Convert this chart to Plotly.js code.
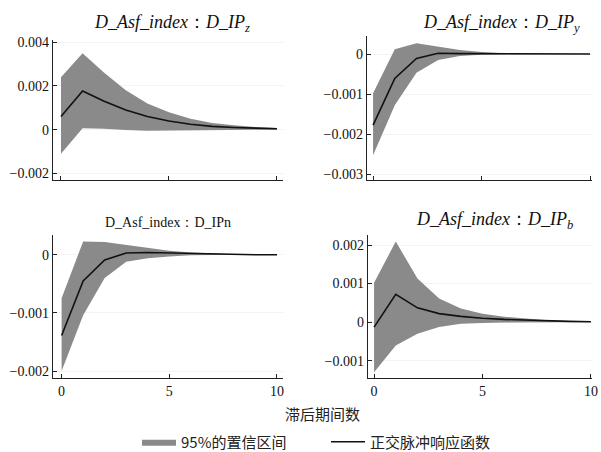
<!DOCTYPE html>
<html><head><meta charset="utf-8">
<script src="https://cdn.plot.ly/plotly-3.0.1.min.js"></script>
<style>html,body{margin:0;padding:0;background:#fff}</style>
</head><body><div id="chart" style="width:601px;height:452px"></div>
<script>
const lags = [0,1,2,3,4,5,6,7,8,9,10];

const zMean  = [0.0006, 0.00177, 0.0013, 0.0009, 0.0006, 0.0004, 0.00025, 0.00015, 0.0001, 0.00006, 0.00004];
const zUpper = [0.0024, 0.0035, 0.0026, 0.0018, 0.0012, 0.0008, 0.0005, 0.0003, 0.0002, 0.00012, 0.00008];
const zLower = [-0.0011, 0.00006, 0.00004, -0.00002, -0.00005, -0.00004, -0.00003, -0.00002, -0.00001, 0, 0];

const yMean  = [-0.00178, -0.00061, -0.00011, 0.00002, 0.00001, 0.00001, 0, 0, 0, 0, 0];
const yUpper = [-0.00098, 0.00012, 0.00027, 0.00018, 0.0001, 0.00005, 0.00002, 0.00001, 0, 0, 0];
const yLower = [-0.00253, -0.00128, -0.00047, -0.00015, -0.00005, -0.00002, -0.00001, 0, 0, 0, 0];

const nMean  = [-0.00139, -0.00045, -0.00009, 0.00003, 0.00004, 0.00003, 0.00002, 0.00001, 0.00001, 0, 0];
const nUpper = [-0.00075, 0.00023, 0.00022, 0.00017, 0.00012, 0.00007, 0.00004, 0.00002, 0.00001, 0.00001, 0];
const nLower = [-0.002, -0.00104, -0.0004, -0.00012, -0.00006, -0.00003, -0.00001, 0, 0, 0, 0];

const bMean  = [-0.00013, 0.00072, 0.00037, 0.00022, 0.00015, 0.0001, 0.00007, 0.00005, 0.00003, 0.00002, 0.00001];
const bUpper = [0.00102, 0.00209, 0.00113, 0.00061, 0.00035, 0.00022, 0.00014, 0.00009, 0.00005, 0.00003, 0.00002];
const bLower = [-0.0013, -0.00061, -0.0003, -0.00013, -0.00004, -0.00002, -0.00001, 0, 0, 0, 0];

const bandName = "95%的置信区间";
const lineName = "正交脉冲响应函数";

const panels = [
  {mean:zMean, up:zUpper, lo:zLower, xa:'x', ya:'y'},
  {mean:yMean, up:yUpper, lo:yLower, xa:'x2', ya:'y2'},
  {mean:nMean, up:nUpper, lo:nLower, xa:'x3', ya:'y3'},
  {mean:bMean, up:bUpper, lo:bLower, xa:'x4', ya:'y4'}
];

const traces = [];
panels.forEach((p,i)=>{
  traces.push({
    x: lags.concat(lags.slice().reverse()),
    y: p.up.concat(p.lo.slice().reverse()),
    xaxis:p.xa, yaxis:p.ya, type:'scatter', mode:'lines',
    fill:'toself', fillcolor:'#8a8a8a', line:{width:0,color:'#8a8a8a'},
    name:bandName, showlegend:i===0, hoverinfo:'skip'
  });
});
panels.forEach((p,i)=>{
  traces.push({
    x: lags, y: p.mean, xaxis:p.xa, yaxis:p.ya, type:'scatter', mode:'lines',
    line:{color:'#111', width:1.6}, name:lineName, showlegend:i===0
  });
});

const W=601, H=452;
const SERIF = "'Liberation Serif', 'DejaVu Serif', serif";
const CJK = "'Noto Sans CJK SC', sans-serif";
const dx = (a,b)=>[a/W, b/W];
const dy = (top,bot)=>[1-bot/H, 1-top/H];
const tickFont = {family:SERIF, size:14, color:'#111'};
function xax(dom, range, labels){
  return {domain:dom, range:range, tickvals:[0,5,10], showticklabels:labels,
    ticks:'inside', ticklen:4, tickcolor:'#222', showline:true, linecolor:'#222', linewidth:1.3,
    showgrid:false, zeroline:false, tickfont:tickFont, fixedrange:true, automargin:false};
}
function yax(dom, range, dtick, anchor){
  return {domain:dom, range:range, dtick:dtick, tick0:0, ticks:'inside', ticklen:4, tickcolor:'#222',
    showline:true, linecolor:'#222', linewidth:1.3, showgrid:true, gridcolor:'#f3f3f3',
    zeroline:false, tickfont:tickFont, anchor:anchor, fixedrange:true, tickformat:'~g', automargin:false};
}
function ann(text, x, y, size){
  return {text:text, x:x/W, y:1-y/H, xref:'paper', yref:'paper', xanchor:'center', yanchor:'middle',
    showarrow:false, font:{family:SERIF, size:size, color:'#111'}};
}

const layout = {
  width:W, height:H, margin:{l:0,r:0,t:0,b:0, autoexpand:false},
  paper_bgcolor:'#fff', plot_bgcolor:'#fff',
  font:{family:SERIF},
  showlegend:true,
  legend:{orientation:'h', x:137/W, xanchor:'left', y:1-442/H, yanchor:'middle',
    font:{family:CJK, size:15, color:'#222'}, itemwidth:34, entrywidth:140, bgcolor:'rgba(0,0,0,0)'},
  xaxis: Object.assign(xax(dx(53,283), [-0.37,10.28], false), {anchor:'y'}),
  yaxis: yax(dy(40,180), [-0.0023,0.0041], 0.002, 'x'),
  xaxis2: Object.assign(xax(dx(367,592), [-0.28,10.09], false), {anchor:'y2'}),
  yaxis2: yax(dy(36,180), [-0.00315,0.00045], 0.001, 'x2'),
  xaxis3: Object.assign(xax(dx(53,283), [-0.4,10.28], true), {anchor:'y3'}),
  yaxis3: yax(dy(235,378), [-0.00212,0.00034], 0.001, 'x3'),
  xaxis4: Object.assign(xax(dx(368,592), [-0.28,10.05], true), {anchor:'y4'}),
  yaxis4: yax(dy(235,378), [-0.00145,0.00226], 0.001, 'x4'),
  annotations:[
    ann('<i>D_Asf_index</i>：<i>D_IP<sub>z</sub></i>', 172, 23, 18),
    ann('<i>D_Asf_index</i>：<i>D_IP<sub>y</sub></i>', 501, 23, 18),
    ann('D_Asf_index：D_IPn', 168, 222, 14),
    ann('<i>D_Asf_index</i>：<i>D_IP<sub>b</sub></i>', 494, 220, 18),
    {text:'滞后期间数', x:322/W, y:1-413/H, xref:'paper', yref:'paper', xanchor:'center', yanchor:'middle',
     showarrow:false, font:{family:CJK, size:15, color:'#222'}}
  ]
};

Plotly.newPlot('chart', traces, layout, {displayModeBar:false, staticPlot:true});
</script></body></html>
